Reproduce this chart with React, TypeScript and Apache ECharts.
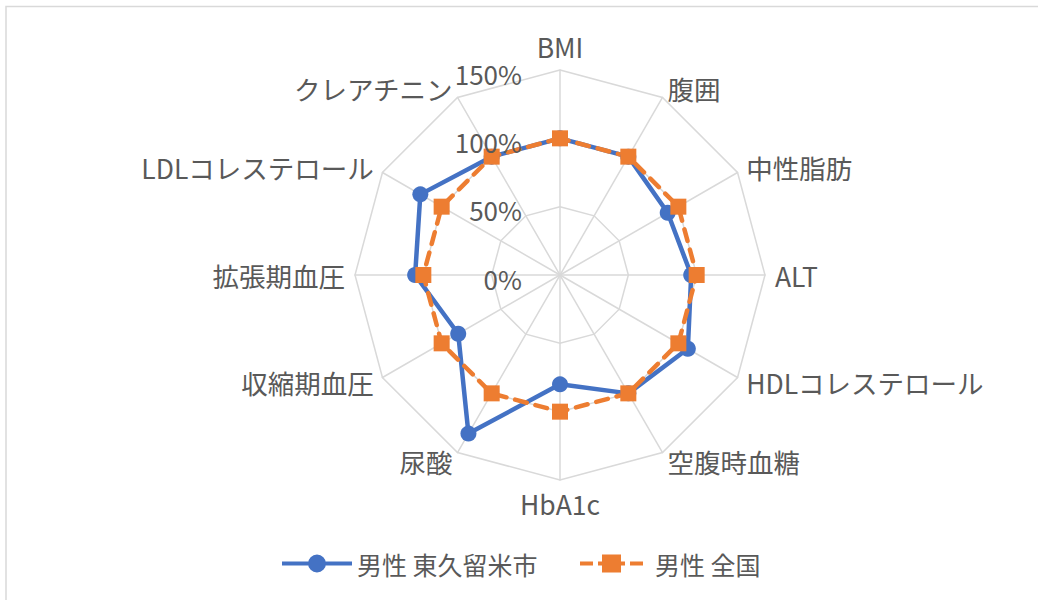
import React, { useEffect, useRef } from "react";
import * as echarts from "echarts";

// Indicators in clockwise order starting from the top
const indicators = [
  "BMI",
  "腹囲",
  "中性脂肪",
  "ALT",
  "HDLコレステロール",
  "空腹時血糖",
  "HbA1c",
  "尿酸",
  "収縮期血圧",
  "拡張期血圧",
  "LDLコレステロール",
  "クレアチニン",
];
const seriesNames = ["男性 東久留米市", "男性 全国"];
const higashikurume = [100, 100, 91, 96, 108, 100, 80, 134, 86, 106, 118, 100];
const national = [100, 100, 100, 100, 100, 100, 100, 100, 100, 100, 100, 100];
const tickValues = [0, 50, 100, 150];
const tickLabels = ["0%", "50%", "100%", "150%"];
const axisMax = 150;

// ECharts radar places indicators counter-clockwise; reorder so the display is clockwise
const toCcw = <T,>(arr: T[]): T[] => [arr[0], ...arr.slice(1).reverse()];

const CX = 560;
const CY = 275;
const R = 205;
const FONT = "'Noto Sans CJK JP', 'Noto Sans', sans-serif";
const TEXT = "#595959";
const BLUE = "#4472C4";
const ORANGE = "#ED7D31";
const GRID = "#d9d9d9";

const blueIcon =
  "path://M0,7h27v4h-27z M26,9a9,9 0 1,1 18,0a9,9 0 1,1 -18,0z M43,7h27v4h-27z";
const orangeIcon =
  "path://M0,7h13v4h-13z M18,7h4v4h-4z M22,0h19v18h-19z M41,7h4v4h-4z M50,7h13v4h-13z";

export default function App() {
  const ref = useRef<HTMLDivElement>(null);
  useEffect(() => {
    document.body.style.margin = "0";
    if (!ref.current) return;
    const chart = echarts.init(ref.current, undefined, { renderer: "svg" });
    const tickTexts = tickValues.map((v, i) => ({
      type: "text",
      x: CX - 38,
      y: CY - (v / axisMax) * R + 3,
      style: {
        text: tickLabels[i],
        fill: TEXT,
        font: `26px ${FONT}`,
        align: "right",
        verticalAlign: "middle",
      },
      z: 10,
    }));
    chart.setOption({
      animation: false,
      backgroundColor: "#ffffff",
      graphic: [
        {
          type: "rect",
          shape: { x: 6, y: 6.5, width: 1200, height: 1000 },
          style: { fill: "none", stroke: GRID, lineWidth: 1.5 },
          silent: true,
        },
        ...tickTexts,
      ],
      legend: [
        {
          data: [seriesNames[0]],
          left: 282,
          top: 551,
          padding: 0,
          itemWidth: 70,
          itemHeight: 18,
          icon: blueIcon,
          textStyle: { color: TEXT, fontSize: 25, fontFamily: FONT },
        },
        {
          data: [seriesNames[1]],
          left: 580,
          top: 551,
          padding: 0,
          itemWidth: 63,
          itemHeight: 18,
          icon: orangeIcon,
          textStyle: { color: TEXT, fontSize: 25, fontFamily: FONT, padding: [0, 0, 0, 7] },
        },
      ],
      radar: {
        center: [CX, CY],
        radius: R,
        startAngle: 90,
        splitNumber: 3,
        shape: "polygon",
        nameGap: 10,
        axisName: { color: TEXT, fontSize: 26.5, fontFamily: FONT },
        indicator: toCcw(indicators).map((name) => ({ name, min: 0, max: axisMax })),
        axisLine: { lineStyle: { color: GRID, width: 1.5 } },
        splitLine: { lineStyle: { color: GRID, width: 1.5 } },
        splitArea: { show: false },
        axisLabel: { show: false },
        axisTick: { show: false },
      },
      series: [
        {
          type: "radar",
          data: [
            {
              name: seriesNames[0],
              value: toCcw(higashikurume),
              symbol: "circle",
              symbolSize: 16,
              itemStyle: { color: BLUE },
              lineStyle: { color: BLUE, width: 4.5 },
            },
            {
              name: seriesNames[1],
              value: toCcw(national),
              symbol: "rect",
              symbolSize: 16,
              itemStyle: { color: ORANGE },
              lineStyle: { color: ORANGE, width: 4.5, type: [12, 9], cap: "round" },
            },
          ],
        },
      ],
    });
    return () => chart.dispose();
  }, []);
  return <div ref={ref} style={{ width: 1038, height: 600 }} />;
}
